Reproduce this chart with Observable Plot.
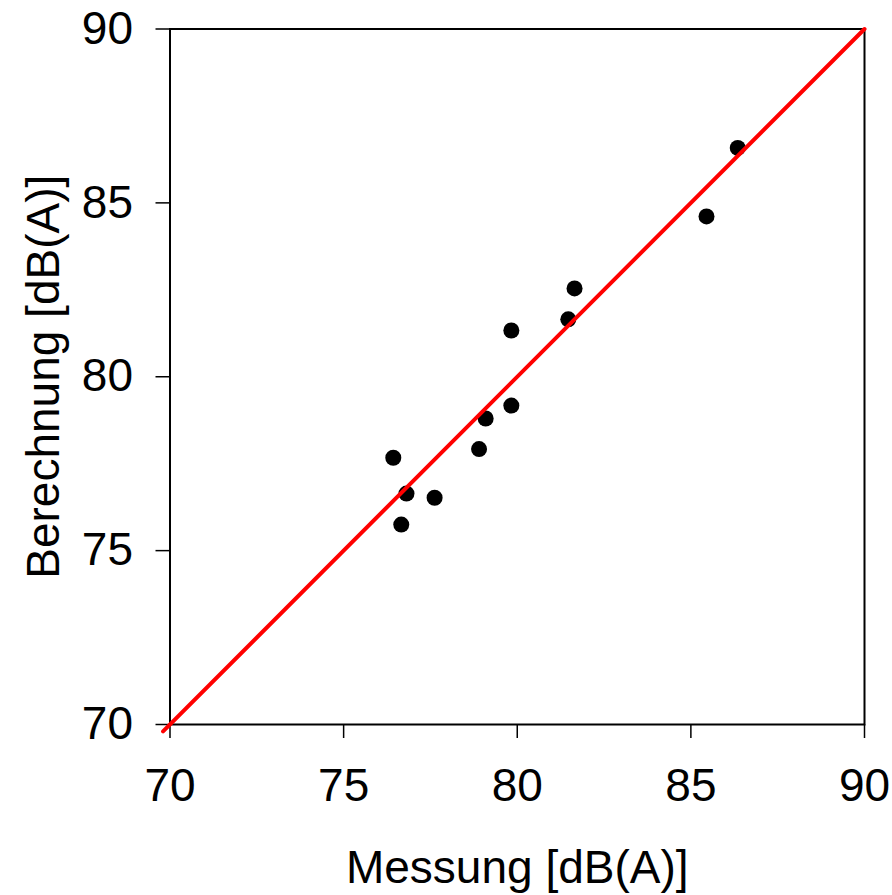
<!DOCTYPE html>
<html><head><meta charset="utf-8">
<script src="https://cdn.jsdelivr.net/npm/d3@7"></script>
<script src="https://cdn.jsdelivr.net/npm/@observablehq/plot@0.6"></script>
<style>body{margin:0;background:#fff}</style>
</head><body><div id="chart"></div>
<script>
const messung    = [76.43, 76.81, 76.66, 77.62, 78.90, 79.09, 79.83, 79.83, 81.47, 81.65, 85.45, 86.35];
const berechnung = [77.67, 76.64, 75.75, 76.52, 77.92, 78.80, 79.17, 81.33, 81.65, 82.54, 84.61, 86.58];
const lineX = [69.8, 90];
const lineY = [69.8, 90];
const tickValues = [70, 75, 80, 85, 90];
const xLabel = "Messung [dB(A)]";
const yLabel = "Berechnung [dB(A)]";

const points = messung.map((m, i) => ({x: m, y: berechnung[i]}));
const linePts = lineX.map((v, i) => ({x: v, y: lineY[i]}));

const chart = Plot.plot({
  width: 892, height: 895,
  marginLeft: 169.5, marginRight: 28, marginTop: 28.5, marginBottom: 171,
  style: {fontFamily: "'Liberation Sans', Arial, sans-serif", fontSize: "46px", background: "white", color: "black", overflow: "visible"},
  x: {domain: [70, 90]},
  y: {domain: [70, 90]},
  marks: [
    Plot.frame({stroke: "black", strokeWidth: 2}),
    Plot.axisX({ticks: tickValues, tickSize: 14, tickPadding: 30, tickFormat: d => String(d), fontSize: 46, strokeWidth: 1.5, label: null}),
    Plot.axisY({ticks: tickValues, tickSize: 14, tickPadding: 23, tickFormat: d => String(d), fontSize: 46, strokeWidth: 1.5, label: null}),
    Plot.text([xLabel], {text: d => d, frameAnchor: "bottom", lineAnchor: "bottom", dy: 158.5, fontSize: 46, fill: "black"}),
    Plot.text([yLabel], {text: d => d, frameAnchor: "left", textAnchor: "middle", lineAnchor: "bottom", rotate: -90, dx: -111.5, fontSize: 46, fill: "black"}),
    Plot.dot(points, {x: "x", y: "y", r: 8, fill: "black", stroke: "none"}),
    Plot.line(linePts, {x: "x", y: "y", stroke: "red", strokeWidth: 4})
  ]
});
document.getElementById("chart").appendChild(chart);
</script>
</body></html>
